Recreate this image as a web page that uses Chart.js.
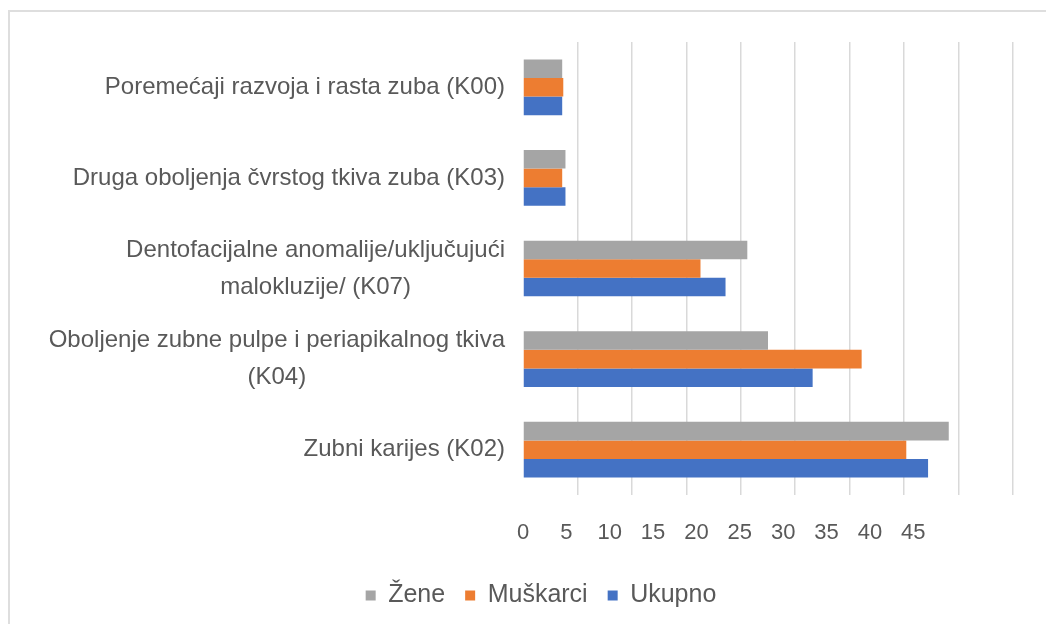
<!DOCTYPE html>
<html>
<head>
<meta charset="utf-8">
<script src="https://cdn.jsdelivr.net/npm/chart.js@4/dist/chart.umd.min.js"></script>
<style>
  html, body { margin: 0; padding: 0; background: #fff; }
  #wrap { position: relative; width: 1046px; height: 624px; overflow: hidden; }
  #frame { position: absolute; left: 8px; top: 10px; width: 1100px; height: 700px;
           border-top: 2px solid #dedede; border-left: 2px solid #dedede; pointer-events: none; }
</style>
</head>
<body>
<div id="wrap">
  <canvas id="myChart" width="1046" height="624"></canvas>
  <div id="frame"></div>
</div>
<script>
// dijagnoze, odozgo nadole
var categories = [
    ["Poremećaji razvoja i rasta zuba (K00)"],
    ["Druga oboljenja čvrstog tkiva zuba (K03)"],
    ["Dentofacijalne anomalije/uključujući", "malokluzije/ (K07)"],
    ["Oboljenje zubne pulpe i periapikalnog tkiva", "(K04)"],
    ["Zubni karijes (K02)"]
]
var zene     = [3.6, 3.9, 20.6, 22.5, 39.1]
var muskarci = [3.7, 3.6, 16.3, 31.1, 35.2]
var ukupno   = [3.6, 3.9, 18.6, 26.6, 37.2]
var xTicks = [0, 5, 10, 15, 20, 25, 30, 35, 40, 45]

var textColor = '#595959'
var fontFamily = '"Liberation Sans", Arial, sans-serif'

// y labels are drawn by hand so two-line names stay centred on themselves
var categoryLabels = {
    id: 'categoryLabels',
    afterDraw(chart) {
        var ctx = chart.ctx
        var y = chart.scales.y
        ctx.save()
        ctx.font = '24px ' + fontFamily
        ctx.fillStyle = textColor
        ctx.textAlign = 'center'
        ctx.textBaseline = 'middle'
        categories.forEach((lines, i) => {
            var cy = y.getPixelForTick(i)
            var w = Math.max(...lines.map(l => ctx.measureText(l).width))
            var cx = y.right - 18 - w / 2
            lines.forEach((line, j) => {
                ctx.fillText(line, cx, cy + (j - (lines.length - 1) / 2) * 37)
            })
        })
        ctx.restore()
    }
}

renderChart()

function renderChart(){
    var ctx = document.getElementById("myChart").getContext("2d")
    new Chart(ctx, {
        type: 'bar',
        data: {
            labels: categories,
            datasets: [
                { label: 'Žene', data: zene, backgroundColor: '#A5A5A5' },
                { label: 'Muškarci', data: muskarci, backgroundColor: '#ED7D31' },
                { label: 'Ukupno', data: ukupno, backgroundColor: '#4472C4' }
            ]
        },
        options: {
            indexAxis: 'y',
            responsive: false,
            animation: false,
            categoryPercentage: 0.615,
            barPercentage: 1,
            layout: { padding: { left: 69, right: 33, top: 42, bottom: 6 } },
            scales: {
                y: {
                    ticks: { display: false },
                    grid: { display: false },
                    border: { display: false },
                    afterFit(scale) { scale.width = 523 - 69 }
                },
                x: {
                    min: 0,
                    max: 45,
                    ticks: { display: false, stepSize: 5 },
                    grid: {
                        drawTicks: false,
                        lineWidth: 1.5,
                        color: c => c.tick && c.tick.value === 0 ? 'rgba(0,0,0,0)' : '#d9d9d9'
                    },
                    border: { display: false },
                    afterFit(scale) { scale.height = 0 }
                },
                // axis that carries the printed values under the plot
                x2: {
                    position: 'bottom',
                    min: 0,
                    max: 56.5,
                    grid: { display: false, drawTicks: false },
                    border: { display: false },
                    afterBuildTicks(scale) { scale.ticks = xTicks.map(v => ({ value: v })) },
                    ticks: {
                        padding: 25,
                        autoSkip: false,
                        maxRotation: 0,
                        color: textColor,
                        font: { size: 22, family: fontFamily }
                    },
                    afterFit(scale) { scale.height = 68 }
                }
            },
            plugins: {
                legend: {
                    position: 'bottom',
                    labels: {
                        boxWidth: 10,
                        boxHeight: 10,
                        padding: 20,
                        color: textColor,
                        font: { size: 25, family: fontFamily }
                    }
                },
                tooltip: { enabled: false }
            }
        },
        plugins: [categoryLabels]
    })
}
</script>
</body>
</html>
